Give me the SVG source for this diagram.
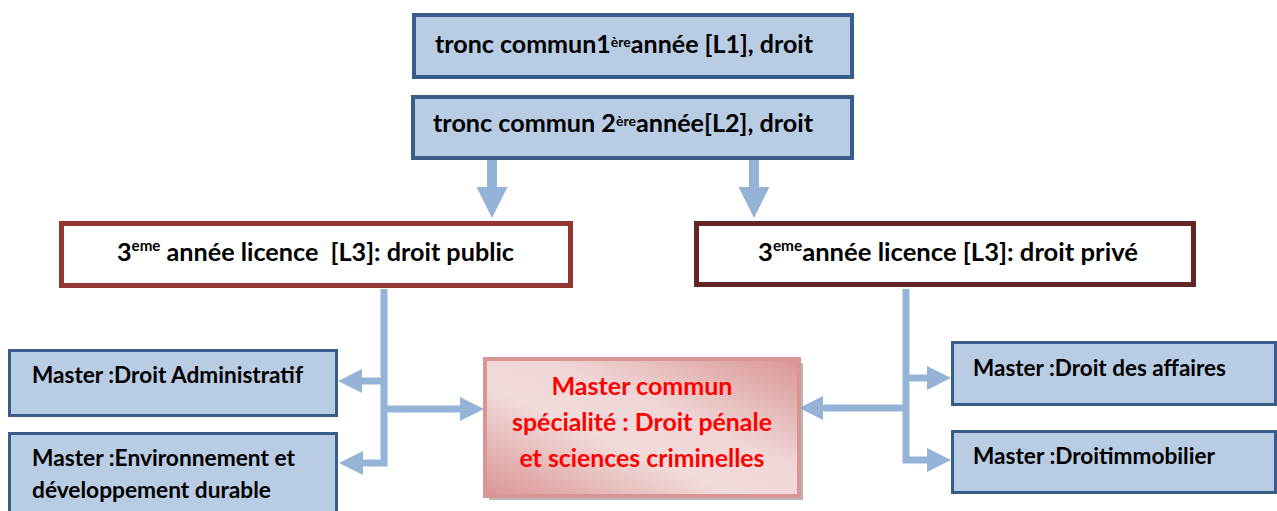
<svg xmlns="http://www.w3.org/2000/svg" width="1277" height="511" viewBox="0 0 1277 511">
<style>
  text { font-family: Lato, Carlito, "Liberation Sans", sans-serif; font-weight: bold; fill: #000; }
  .t24 { font-size: 25px; }
  .t22 { font-size: 23px; }
  .sup13 { font-size: 14px; }
  .sup15 { font-size: 15px; }
  .red { fill: #FF0000; font-size: 25px; }
  .bluebox { fill: #B8CCE4; stroke: #385D8A; }
  .conn { fill: none; stroke: #95B3D7; stroke-linejoin: miter; }
</style>
<defs>
  <marker id="ah" viewBox="0 0 24 24" markerWidth="24" markerHeight="24" markerUnits="userSpaceOnUse" refX="0" refY="12" orient="auto">
    <path d="M0,0 L24,12 L0,24 Z" fill="#95B3D7"/>
  </marker>
  <marker id="ahBig" viewBox="0 0 31 31" markerWidth="31" markerHeight="31" markerUnits="userSpaceOnUse" refX="0" refY="15.5" orient="auto">
    <path d="M0,0 L31,15.5 L0,31 Z" fill="#95B3D7"/>
  </marker>
  <linearGradient id="pinkGrad" x1="0" y1="1" x2="1" y2="0">
    <stop offset="0" stop-color="#D99594"/>
    <stop offset="0.4" stop-color="#F2DBDB"/>
    <stop offset="0.6" stop-color="#F0D6D6"/>
    <stop offset="1" stop-color="#D99594"/>
  </linearGradient>
</defs>

<g id="connectors">
  <path class="conn" stroke-width="10" d="M492,160 V187" marker-end="url(#ahBig)"/>
  <path class="conn" stroke-width="10" d="M754,160 V187" marker-end="url(#ahBig)"/>
  <path class="conn" stroke-width="7" d="M384,289 V463 H363" marker-end="url(#ah)"/>
  <path class="conn" stroke-width="7" d="M384,381 H362" marker-end="url(#ah)"/>
  <path class="conn" stroke-width="7" d="M384,409 H460" marker-end="url(#ah)"/>
  <path class="conn" stroke-width="7" d="M906,289 V460 H927" marker-end="url(#ah)"/>
  <path class="conn" stroke-width="7" d="M906,378 H927" marker-end="url(#ah)"/>
  <path class="conn" stroke-width="7" d="M906,408 H823" marker-end="url(#ah)"/>
</g>

<g id="node-l1">
  <rect class="bluebox" x="414" y="15" width="438" height="62" stroke-width="4"/>
  <text class="t24" x="435" y="53" textLength="378" lengthAdjust="spacingAndGlyphs">tronc commun1<tspan class="sup13" dy="-6">ère</tspan><tspan dy="6">année [L1], droit</tspan></text>
</g>

<g id="node-l2">
  <rect class="bluebox" x="413" y="97" width="439" height="61" stroke-width="4"/>
  <text class="t24" x="433" y="132" textLength="380" lengthAdjust="spacingAndGlyphs">tronc commun 2<tspan class="sup13" dy="-6">ère</tspan><tspan dy="6">année[L2], droit</tspan></text>
</g>

<g id="node-l3-public">
  <rect x="61.5" y="223.5" width="509" height="62" fill="#FFFFFF" stroke="#943634" stroke-width="5"/>
  <text class="t24" x="117" y="261" textLength="397" lengthAdjust="spacingAndGlyphs" xml:space="preserve">3<tspan class="sup15" dy="-10">eme</tspan><tspan dy="10"> année licence  [L3]: droit public</tspan></text>
</g>

<g id="node-l3-prive">
  <rect x="696.5" y="223.5" width="497" height="61" fill="#FFFFFF" stroke="#632523" stroke-width="5"/>
  <text class="t24" x="758" y="261" textLength="380" lengthAdjust="spacingAndGlyphs">3<tspan class="sup15" dy="-10">eme</tspan><tspan dy="10">année licence [L3]: droit privé</tspan></text>
</g>

<g id="node-master-admin">
  <rect class="bluebox" x="9.5" y="350.5" width="327" height="65" stroke-width="3"/>
  <text class="t22" x="32" y="383" textLength="271" lengthAdjust="spacingAndGlyphs">Master :Droit Administratif</text>
</g>

<g id="node-master-env">
  <rect class="bluebox" x="9.5" y="433.5" width="327" height="85" stroke="#31849B" stroke-width="3"/>
  <text class="t22" x="32" y="466" textLength="263" lengthAdjust="spacingAndGlyphs">Master :Environnement et</text>
  <text class="t22" x="32" y="498" textLength="239" lengthAdjust="spacingAndGlyphs">développement durable</text>
</g>

<g id="node-master-commun">
  <rect x="489" y="363" width="314" height="137" fill="#A6A6A6" opacity="0.8"/>
  <rect x="485" y="359" width="314" height="137" fill="url(#pinkGrad)" stroke="#D99594" stroke-width="4"/>
  <text class="red" x="642" y="395" text-anchor="middle" textLength="181" lengthAdjust="spacingAndGlyphs">Master commun</text>
  <text class="red" x="642" y="431" text-anchor="middle" textLength="260" lengthAdjust="spacingAndGlyphs">spécialité : Droit pénale</text>
  <text class="red" x="642" y="467" text-anchor="middle" textLength="245" lengthAdjust="spacingAndGlyphs">et sciences criminelles</text>
</g>

<g id="node-master-affaires">
  <rect class="bluebox" x="952.5" y="342.5" width="323" height="62" stroke-width="3"/>
  <text class="t22" x="973" y="376" textLength="253" lengthAdjust="spacingAndGlyphs">Master :Droit des affaires</text>
</g>

<g id="node-master-immobilier">
  <rect class="bluebox" x="952.5" y="431.5" width="323" height="61" stroke-width="3"/>
  <text class="t22" x="973" y="464" textLength="242" lengthAdjust="spacingAndGlyphs">Master :Droitimmobilier</text>
</g>
</svg>
